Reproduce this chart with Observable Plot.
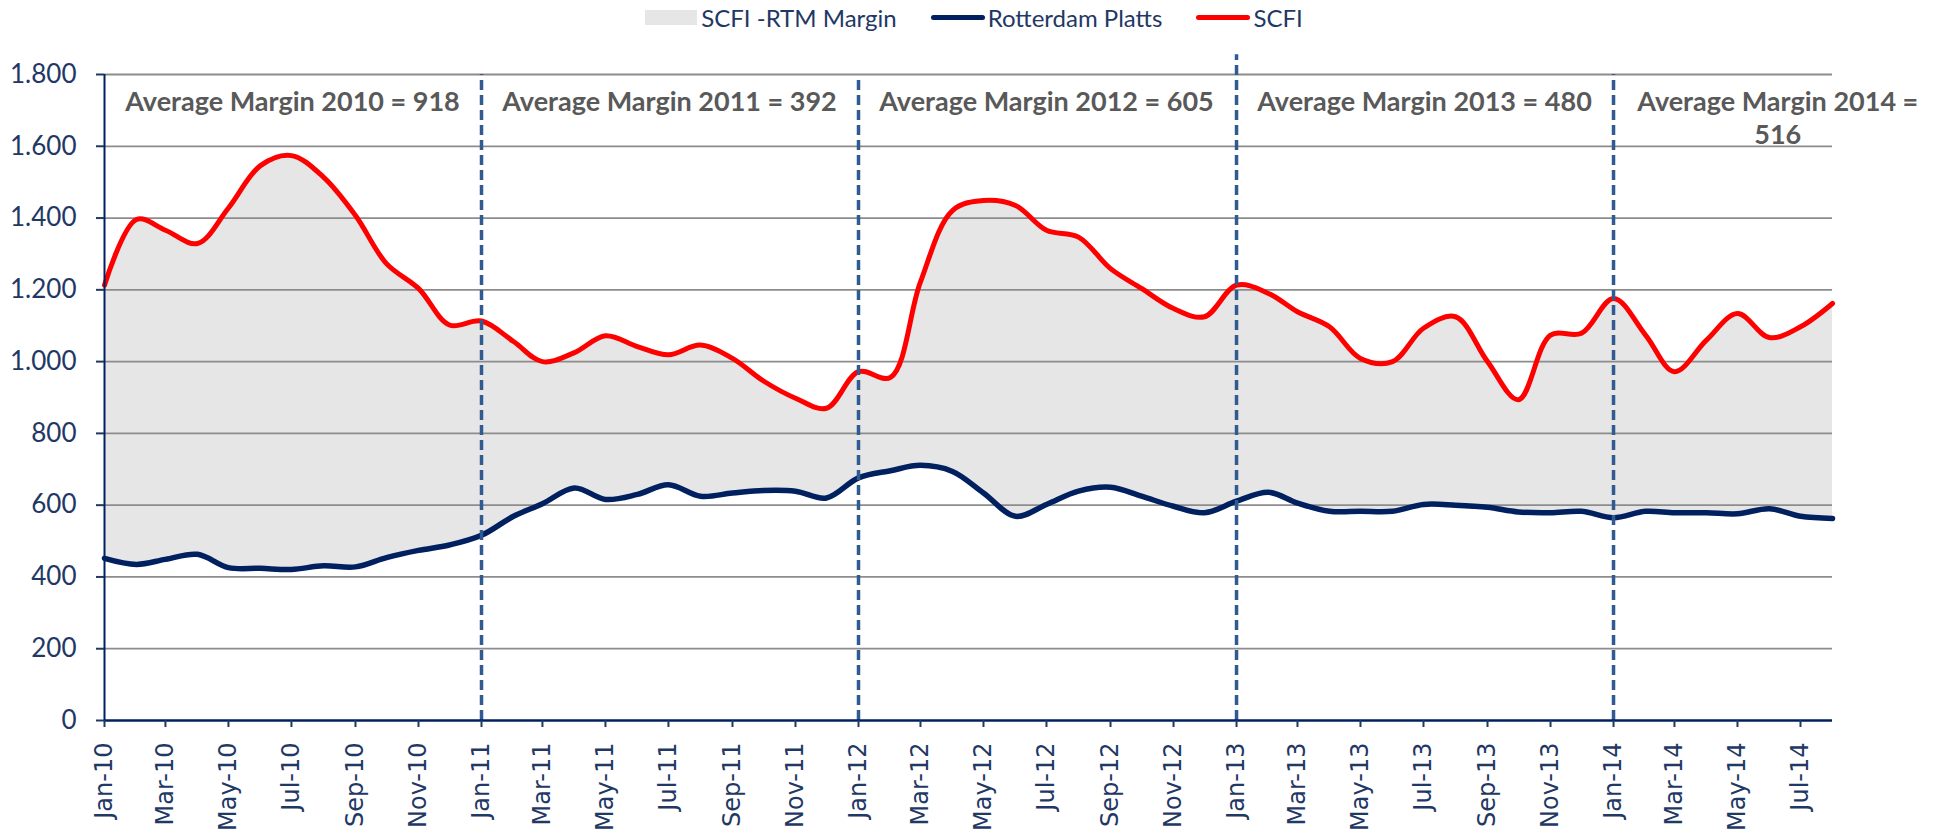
<!DOCTYPE html>
<html><head><meta charset="utf-8">
<script src="https://cdn.jsdelivr.net/npm/d3@7"></script>
<script src="https://cdn.jsdelivr.net/npm/@observablehq/plot@0.6"></script>
<style>
html,body{margin:0;padding:0;background:#fff;width:1944px;height:832px;overflow:hidden}
#legend{height:34px;display:flex;align-items:center;justify-content:center;font-family:Lato,sans-serif;font-size:24px;color:#1F3864;padding-left:4px;box-sizing:border-box}
.item{display:flex;align-items:center;margin:0 17px;white-space:nowrap}
.sw-area{width:52px;height:15px;background:#E6E6E6;margin-right:4px}
.sw-line{width:54px;height:5px;border-radius:3px;margin-right:3px}
#chart svg{display:block}
</style></head>
<body><div id="legend"></div><div id="chart"></div>
<script>
const months = ["2010-01","2010-02","2010-03","2010-04","2010-05","2010-06","2010-07","2010-08","2010-09","2010-10","2010-11","2010-12",
"2011-01","2011-02","2011-03","2011-04","2011-05","2011-06","2011-07","2011-08","2011-09","2011-10","2011-11","2011-12",
"2012-01","2012-02","2012-03","2012-04","2012-05","2012-06","2012-07","2012-08","2012-09","2012-10","2012-11","2012-12",
"2013-01","2013-02","2013-03","2013-04","2013-05","2013-06","2013-07","2013-08","2013-09","2013-10","2013-11","2013-12",
"2014-01","2014-02","2014-03","2014-04","2014-05","2014-06","2014-07","2014-08"];
const scfi = [1213,1396,1366,1329,1428,1546,1574,1514,1407,1273,1204,1102,
1113,1056,1000,1025,1072,1042,1019,1046,1009,946,898,870,
972,956,1222,1421,1449,1435,1366,1347,1259,1204,1148,1125,
1213,1190,1139,1097,1009,1000,1093,1125,1000,894,1074,1079,
1176,1074,972,1060,1134,1067,1097,1162];
const rotterdam = [452,435,449,463,426,424,421,431,428,454,474,489,
516,569,604,648,616,630,657,625,634,641,639,620,
676,696,711,694,634,569,602,639,650,625,597,579,
611,636,606,583,583,583,602,600,594,581,579,583,
565,583,579,579,576,590,569,563];
const yTicks = [0,200,400,600,800,1000,1200,1400,1600,1800];
const seriesNames = ["SCFI -RTM Margin","Rotterdam Platts","SCFI"];
const seriesColors = ["#E6E6E6","#002060","#FF0000"];
const dividerMonths = ["2011-01","2012-01","2013-01","2014-01"];
const dividerTops = [1800,1790,1855,1800];
const noteDates = ["2010-07-02","2011-07-02","2012-07-01","2013-07-02","2014-06-09"];
const noteTexts = ["Average Margin 2010 = 918","Average Margin 2011 = 392","Average Margin 2012 = 605","Average Margin 2013 = 480","Average Margin 2014 =\n516"];
const noteY = 1762;

// legend
const leg = document.getElementById("legend");
seriesNames.forEach((n,i)=>{
  const it = document.createElement("div"); it.className="item";
  const sw = document.createElement("div");
  sw.className = i===0 ? "sw-area" : "sw-line";
  sw.style.background = seriesColors[i];
  const t = document.createElement("span"); t.textContent = n;
  it.appendChild(sw); it.appendChild(t); leg.appendChild(it);
});

const parseM = d3.utcParse("%Y-%m");
const parseD = d3.utcParse("%Y-%m-%d");
const data = months.map((m,i)=>({date: parseM(m), scfi: scfi[i], rtm: rotterdam[i]}));
const xTicks = data.filter((d,i)=>i%2===0).map(d=>d.date);
const dividers = dividerMonths.map((m,i)=>({date: parseM(m), top: dividerTops[i]}));
const notes = noteDates.map((d,i)=>({date: parseD(d), text: noteTexts[i], y: noteY}));
const locale = d3.formatLocale({decimal:",", thousands:".", grouping:[3], currency:["",""]});
const fmtY = locale.format(",");
const navy = "#1F3864";

const chart = Plot.plot({
  width:1944, height:798, marginLeft:104, marginRight:112, marginTop:40, marginBottom:112,
  x:{type:"utc", domain:[data[0].date, data[data.length-1].date]},
  y:{domain:[0,1800]},
  marks:[
    Plot.areaY(data,{x:"date", y1:"rtm", y2:"scfi", fill:seriesColors[0], curve:"catmull-rom"}),
    Plot.ruleY(yTicks.filter(d=>d>0), {stroke:"#8C8C8C", strokeWidth:1.8}),
    Plot.lineY(data,{x:"date", y:"rtm", stroke:seriesColors[1], strokeWidth:5.5, curve:"catmull-rom"}),
    Plot.lineY(data,{x:"date", y:"scfi", stroke:seriesColors[2], strokeWidth:5, curve:"catmull-rom"}),
    Plot.ruleX(dividers, {x:"date", y1:0, y2:"top", stroke:"#2F5A92", strokeWidth:3.5, strokeDasharray:"10,5"}),
    Plot.ruleY([0], {stroke:"#002060", strokeWidth:2.5}),
    Plot.ruleX([data[0].date], {y1:0, y2:1800, stroke:"#002060", strokeWidth:2}),
    Plot.axisY({ticks:yTicks, tickFormat:fmtY, tickSize:8, tickPadding:20, fontSize:26, fontFamily:"Lato, sans-serif", color:navy, strokeWidth:2, label:null}),
    Plot.axisX({ticks:xTicks, tickFormat:d3.utcFormat("%b-%y"), tickRotate:-90, tickSize:7, tickPadding:15, fontSize:24, fontFamily:"DejaVu Sans", color:navy, strokeWidth:2, label:null}),
    Plot.text(notes, {x:"date", y:"y", text:"text", lineAnchor:"top", lineHeight:1.2, fontSize:27, fontWeight:"bold", fontFamily:"Lato, sans-serif", fill:"#595959"})
  ]
});
document.getElementById("chart").appendChild(chart);
</script></body></html>
